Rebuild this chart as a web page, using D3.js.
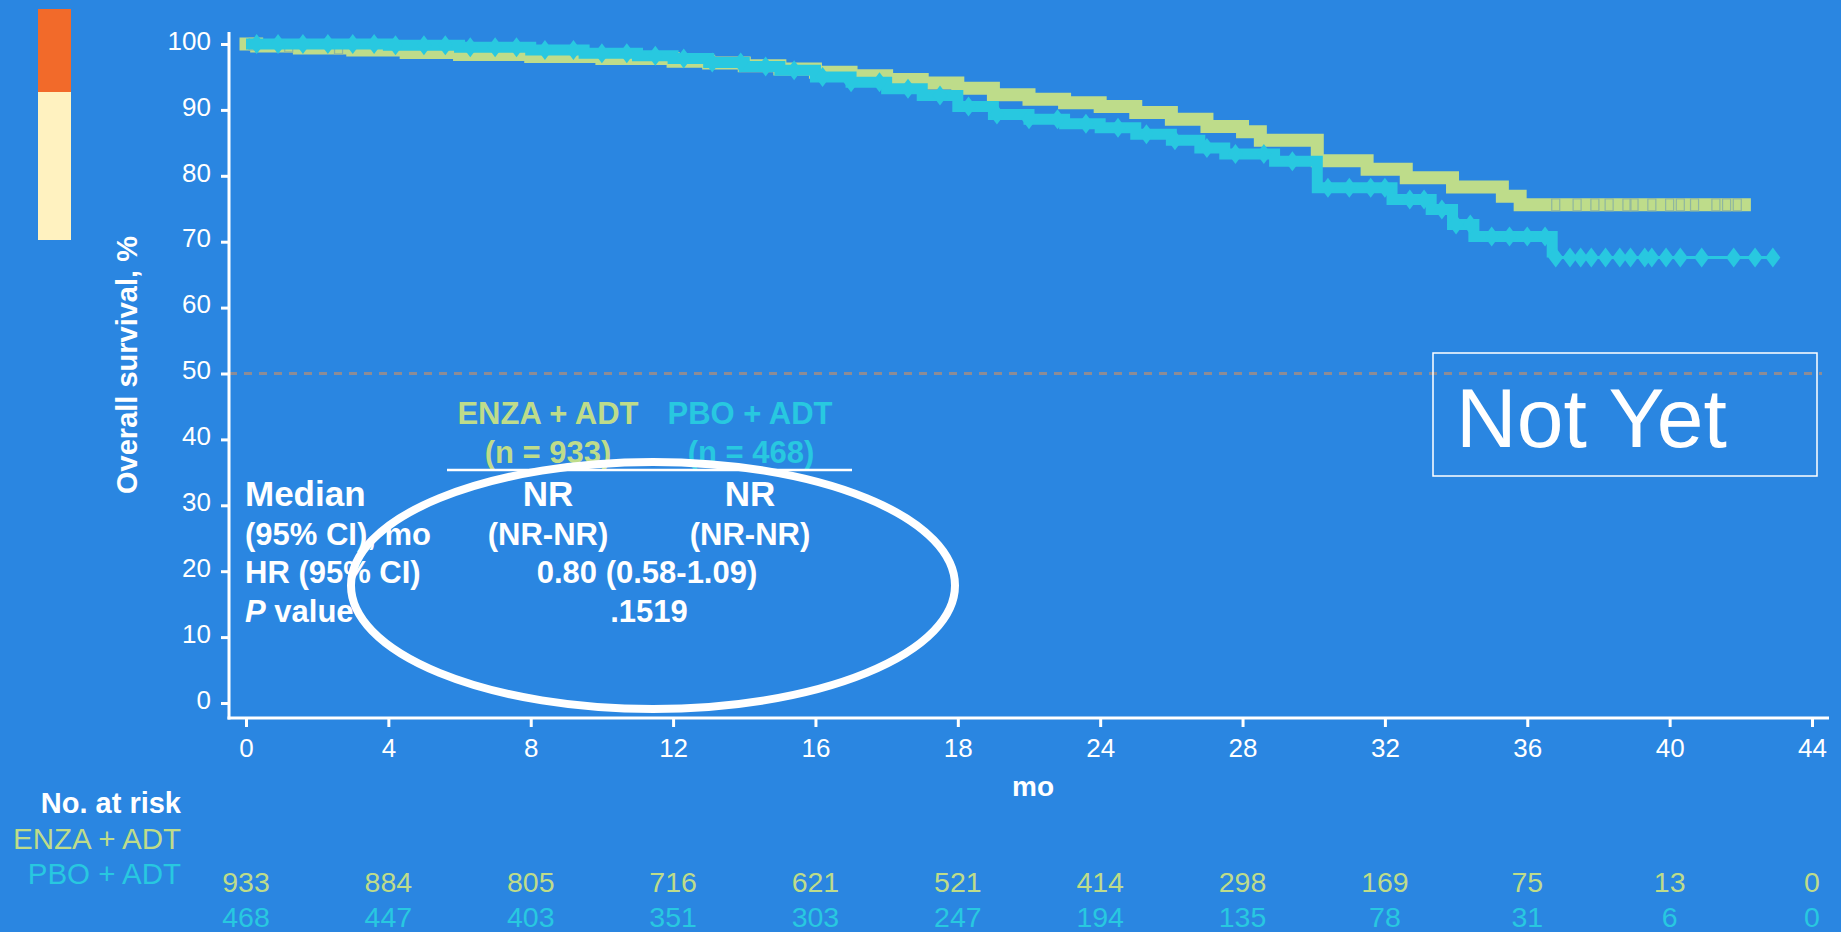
<!DOCTYPE html>
<html>
<head>
<meta charset="utf-8">
<script src="https://cdn.jsdelivr.net/npm/d3@7"></script>
<style>
  body { margin: 0; background: #2a86e1; }
  svg { display: block; }
  text { font-family: "Liberation Sans", Arial, sans-serif; }
</style>
</head>
<body>
<div id="vis"></div>
<script>
// data
const yTicks = [0, 10, 20, 30, 40, 50, 60, 70, 80, 90, 100];
const xTicks = [0, 4, 8, 12, 16, 20, 24, 28, 32, 36, 40, 44];
const xTickLabels = ["0", "4", "8", "12", "16", "18", "24", "28", "32", "36", "40", "44"];

const enzaMonths   = [0, 0.3, 1.5, 3, 4.5, 6, 8, 10, 12, 13, 14, 15, 16, 17, 18, 19, 20, 21, 22, 23, 24, 25, 26, 27, 28, 28.5, 30.1, 31.5, 32.6, 33.9, 35.3, 35.8, 42.1];
const enzaSurvival = [100, 99.7, 99.4, 99.1, 98.7, 98.4, 98.1, 97.8, 97.4, 97.1, 96.7, 96.2, 95.7, 95.2, 94.6, 94.1, 93.3, 92.3, 91.6, 91.1, 90.5, 89.6, 88.6, 87.5, 86.7, 85.4, 82.3, 81.0, 79.7, 78.3, 76.9, 75.6, 75.6];

const pboMonths   = [0, 4, 6, 8, 9.5, 11, 12, 13, 14, 15, 16, 17, 18, 19, 20, 21, 22, 23, 24, 25, 26, 26.8, 27.5, 28.9, 30.1, 32.2, 33.3, 33.9, 34.5, 36.7, 43];
const pboSurvival = [100, 99.8, 99.5, 99.1, 98.6, 98.2, 97.8, 97.2, 96.6, 96.0, 95.0, 94.2, 93.2, 92.2, 90.5, 89.3, 88.6, 87.9, 87.3, 86.3, 85.4, 84.2, 83.3, 82.2, 78.2, 76.4, 74.9, 72.6, 70.8, 67.6, 67.6];

const enzaCensor = [0.2, 1.2, 2.6, 36.8, 37.4, 37.9, 38.3, 38.8, 39.0, 39.5, 40.0, 40.3, 40.7, 41.3, 41.6, 41.9];
const pboCensor = [0.3, 0.9, 1.6, 2.3, 3.0, 3.6, 4.2, 5.0, 5.6, 6.3, 7.0, 7.6, 8.4, 9.2, 10.0, 10.7, 11.5, 12.3,
  13.1, 13.9, 14.6, 15.4, 16.2, 17.0, 17.8, 18.6, 19.5, 20.3, 21.1, 22.0, 22.8, 23.6, 24.5, 25.3, 26.1, 27.0,
  27.8, 28.6, 29.4, 30.4, 31.0, 31.6, 32.0, 32.7, 33.1, 33.6, 34.0, 34.4, 35.0, 35.5, 36.0, 36.5,
  36.8, 37.2, 37.5, 37.8, 38.2, 38.6, 38.9, 39.3, 39.5, 39.9, 40.3, 40.9, 41.8, 42.4, 42.9];

const riskEnza = [933, 884, 805, 716, 621, 521, 414, 298, 169, 75, 13, 0];
const riskPbo  = [468, 447, 403, 351, 303, 247, 194, 135, 78, 31, 6, 0];

const bg = "#2a86e1";
const green = "#bedc8a";
const cyan = "#28c8e0";

const W = 1841, H = 932;
const axisX = 229, axisY = 718;

const svg = d3.select("#vis").append("svg")
    .attr("width", W)
    .attr("height", H);

svg.append("rect").attr("width", W).attr("height", H).attr("fill", bg);

// scales
const x = d3.scaleLinear().domain([0, 44]).range([246, 1812]);
const y = d3.scaleLinear().domain([0, 100]).range([703, 44]);

// colour bar top left
svg.append("rect").attr("x", 38).attr("y", 9).attr("width", 33).attr("height", 231).attr("fill", "#fff2c0");
svg.append("rect").attr("x", 38).attr("y", 9).attr("width", 33).attr("height", 83).attr("fill", "#f26a2a");

// dashed line at 50%
svg.append("line")
    .attr("x1", axisX).attr("x2", 1822)
    .attr("y1", y(50)).attr("y2", y(50))
    .attr("stroke", "#8c8c96")
    .attr("stroke-width", 3)
    .attr("stroke-dasharray", "8,7");

// axes
const yAxis = svg.append("g")
    .attr("transform", `translate(${axisX},0)`)
    .call(d3.axisLeft(y).tickValues(yTicks).tickSize(8).tickSizeOuter(0).tickPadding(10));

const xAxis = svg.append("g")
    .attr("transform", `translate(0,${axisY})`)
    .call(d3.axisBottom(x).tickValues(xTicks).tickSize(9).tickSizeOuter(0).tickPadding(12)
        .tickFormat((d, i) => xTickLabels[i]));

[yAxis, xAxis].forEach(g => {
    g.select(".domain").remove();
    g.selectAll(".tick line").attr("stroke", "white").attr("stroke-width", 3);
    g.selectAll(".tick text")
        .attr("fill", "white")
        .style("font-size", "26px");
});
yAxis.selectAll(".tick text").attr("dy", "0.2em");

svg.append("line")
    .attr("x1", axisX).attr("x2", axisX)
    .attr("y1", 32).attr("y2", axisY + 1.5)
    .attr("stroke", "white").attr("stroke-width", 3);
svg.append("line")
    .attr("x1", axisX - 1.5).attr("x2", 1829)
    .attr("y1", axisY).attr("y2", axisY)
    .attr("stroke", "white").attr("stroke-width", 3);

// axis titles
svg.append("text")
    .attr("transform", "translate(137,365) rotate(-90)")
    .attr("text-anchor", "middle")
    .attr("fill", "white")
    .style("font-size", "29px")
    .style("font-weight", "bold")
    .text("Overall survival, %");

svg.append("text")
    .attr("x", 1033).attr("y", 796)
    .attr("text-anchor", "middle")
    .attr("fill", "white")
    .style("font-size", "28px")
    .style("font-weight", "bold")
    .text("mo");

// survival curves
const enza = enzaMonths.map((t, i) => ({ t: t, s: enzaSurvival[i] }));
const pbo = pboMonths.map((t, i) => ({ t: t, s: pboSurvival[i] }));
const pboLast = pboMonths[pboMonths.length - 2];

const step = d3.line()
    .x(d => x(d.t))
    .y(d => y(d.s))
    .curve(d3.curveStepAfter);

function survAt(data, t) {
    let s = data[0].s;
    data.forEach(d => { if (d.t <= t) s = d.s; });
    return s;
}

svg.append("path")
    .datum(enza)
    .attr("d", step)
    .attr("fill", "none")
    .attr("stroke", green)
    .attr("stroke-width", 13)
    .attr("stroke-linecap", "square");

svg.selectAll(".enza-cens")
    .data(enzaCensor)
    .enter()
    .append("rect")
    .attr("class", "enza-cens")
    .attr("x", d => x(d) - 4)
    .attr("y", d => y(survAt(enza, d)) - 6)
    .attr("width", 8)
    .attr("height", 12)
    .attr("fill", "none")
    .attr("stroke", "#8fb6a0")
    .attr("stroke-width", 1.2);

svg.append("path")
    .datum(pbo.filter(d => d.t <= pboLast))
    .attr("d", step)
    .attr("fill", "none")
    .attr("stroke", cyan)
    .attr("stroke-width", 11);

svg.append("path")
    .datum(pbo.filter(d => d.t >= pboLast))
    .attr("d", step)
    .attr("fill", "none")
    .attr("stroke", cyan)
    .attr("stroke-width", 3);

svg.selectAll(".pbo-cens")
    .data(pboCensor)
    .enter()
    .append("path")
    .attr("class", "pbo-cens")
    .attr("d", d => {
        const cx = x(d), cy = y(survAt(pbo, d));
        return `M${cx},${cy - 10}L${cx + 7.5},${cy}L${cx},${cy + 10}L${cx - 7.5},${cy}Z`;
    })
    .attr("fill", cyan);

// "Not Yet" box
svg.append("rect")
    .attr("x", 1433).attr("y", 353)
    .attr("width", 384).attr("height", 123)
    .attr("fill", "none")
    .attr("stroke", "white")
    .attr("stroke-width", 1.5);
svg.append("text")
    .attr("x", 1456).attr("y", 447)
    .attr("fill", "white")
    .style("font-size", "84px")
    .text("Not Yet");

// summary table
const table = svg.append("g").attr("fill", "white").style("font-weight", "bold");

function tableText(tx, ty, size, anchor, str, color) {
    return table.append("text")
        .attr("x", tx).attr("y", ty)
        .attr("text-anchor", anchor)
        .attr("fill", color || "white")
        .style("font-size", size + "px")
        .text(str);
}

tableText(548, 424, 31, "middle", "ENZA + ADT", green);
tableText(750, 424, 31, "middle", "PBO + ADT", cyan);
tableText(548, 463, 31, "middle", "(n = 933)", green);
tableText(751, 463, 31, "middle", "(n = 468)", cyan);

table.append("line")
    .attr("x1", 447).attr("x2", 852)
    .attr("y1", 470).attr("y2", 470)
    .attr("stroke", "white").attr("stroke-width", 2.5);

tableText(245, 506, 35, "start", "Median");
tableText(548, 506, 35, "middle", "NR");
tableText(750, 506, 35, "middle", "NR");
tableText(245, 545, 31, "start", "(95% CI), mo");
tableText(548, 545, 31, "middle", "(NR-NR)");
tableText(750, 545, 31, "middle", "(NR-NR)");
tableText(245, 583, 31, "start", "HR (95% CI)");
tableText(647, 583, 31, "middle", "0.80 (0.58-1.09)");
const pv = tableText(245, 622, 31, "start", "");
pv.append("tspan").style("font-style", "italic").text("P");
pv.append("tspan").text(" value");
tableText(649, 622, 31, "middle", ".1519");

// ellipse annotation
svg.append("ellipse")
    .attr("cx", 653).attr("cy", 585.5)
    .attr("rx", 302).attr("ry", 123.5)
    .attr("fill", "none")
    .attr("stroke", "white")
    .attr("stroke-width", 8);

// number at risk
svg.append("text")
    .attr("x", 181).attr("y", 813)
    .attr("text-anchor", "end")
    .attr("fill", "white")
    .style("font-size", "29px")
    .style("font-weight", "bold")
    .text("No. at risk");
svg.append("text")
    .attr("x", 181).attr("y", 849)
    .attr("text-anchor", "end")
    .attr("fill", green)
    .style("font-size", "29.5px")
    .text("ENZA + ADT");
svg.append("text")
    .attr("x", 181).attr("y", 884)
    .attr("text-anchor", "end")
    .attr("fill", cyan)
    .style("font-size", "29.5px")
    .text("PBO + ADT");

svg.selectAll(".risk-enza")
    .data(riskEnza)
    .enter()
    .append("text")
    .attr("class", "risk-enza")
    .attr("x", (d, i) => x(xTicks[i]))
    .attr("y", 892)
    .attr("text-anchor", "middle")
    .attr("fill", green)
    .style("font-size", "28.5px")
    .text(d => d);

svg.selectAll(".risk-pbo")
    .data(riskPbo)
    .enter()
    .append("text")
    .attr("class", "risk-pbo")
    .attr("x", (d, i) => x(xTicks[i]))
    .attr("y", 927)
    .attr("text-anchor", "middle")
    .attr("fill", cyan)
    .style("font-size", "28.5px")
    .text(d => d);
</script>
</body>
</html>
